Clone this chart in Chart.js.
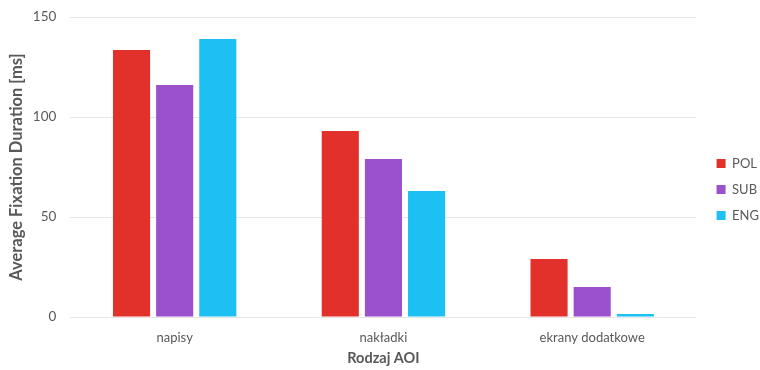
<!DOCTYPE html>
<html lang="en">
<head>
    <meta charset="UTF-8">
    <title>Average Fixation Duration</title>
    <script src="https://cdn.jsdelivr.net/npm/chart.js"></script>
    <style>
        body { margin: 0; background: white; }
        .chart-box { position: relative; width: 760px; height: 370px; }
    </style>
</head>
<body>
    <div class="chart-box">
        <canvas id="barChart"></canvas>
    </div>
    <script>
        // data
        const categories = ['napisy', 'nakładki', 'ekrany dodatkowe'];
        const polValues = [133.5, 93, 29];
        const subValues = [116, 79, 15];
        const engValues = [139, 63, 1.5];
        const yTicks = [0, 50, 100, 150];

        const fontFamily = 'Lato, "Open Sans", sans-serif';
        const grey = '#595959';

        // narrower legend box, then nudge its items right and down a bit
        const legendNudge = {
            id: 'legendNudge',
            beforeInit(chart) {
                const fit = chart.legend.fit;
                chart.legend.fit = function() {
                    fit.bind(chart.legend)();
                    this.width -= 2;
                };
            },
            afterLayout(chart) {
                const lg = chart.legend;
                lg.left += 7;
                lg.right += 7;
                lg.top += 6;
                lg.bottom += 6;
            }
        };

        const ctx = document.getElementById('barChart').getContext('2d');
        const barChart = new Chart(ctx, {
            type: 'bar',
            data: {
                labels: categories,
                datasets: [
                    { label: 'POL', data: polValues, backgroundColor: '#E1312A' },
                    { label: 'SUB', data: subValues, backgroundColor: '#9B50CC' },
                    { label: 'ENG', data: engValues, backgroundColor: '#1DC0F2' }
                ]
            },
            options: {
                responsive: true,
                maintainAspectRatio: false,
                animation: false,
                categoryPercentage: 0.62,
                barPercentage: 0.86,
                layout: {
                    padding: { top: 0, right: 0, bottom: 3, left: 7 }
                },
                plugins: {
                    legend: {
                        position: 'right',
                        labels: {
                            boxWidth: 9,
                            boxHeight: 9,
                            padding: 13,
                            color: grey,
                            font: { family: fontFamily, size: 13 }
                        }
                    },
                    tooltip: { enabled: false }
                },
                scales: {
                    x: {
                        grid: { display: false, drawTicks: false },
                        border: { display: false },
                        ticks: {
                            color: grey,
                            padding: 13,
                            font: { family: fontFamily, size: 13 }
                        },
                        title: {
                            display: true,
                            text: 'Rodzaj AOI',
                            color: grey,
                            padding: { top: -9, bottom: 0 },
                            font: { family: fontFamily, size: 14.5, weight: 'bold' }
                        }
                    },
                    y: {
                        min: 0,
                        max: 150,
                        afterBuildTicks: function(axis) {
                            axis.ticks = yTicks.map(v => ({ value: v }));
                        },
                        afterFit: function(axis) {
                            // keep the top gridline close to the canvas edge
                            axis.paddingTop = 17;
                        },
                        grid: { color: '#e6e6e6', drawTicks: false },
                        border: { display: false },
                        ticks: {
                            color: grey,
                            padding: 14,
                            font: { family: fontFamily, size: 13.5 }
                        },
                        title: {
                            display: true,
                            text: 'Average Fixation Duration [ms]',
                            color: grey,
                            padding: { top: 0, bottom: -8 },
                            font: { family: fontFamily, size: 16.5, weight: 'bold' }
                        }
                    }
                }
            },
            plugins: [legendNudge]
        });
    </script>
</body>
</html>
